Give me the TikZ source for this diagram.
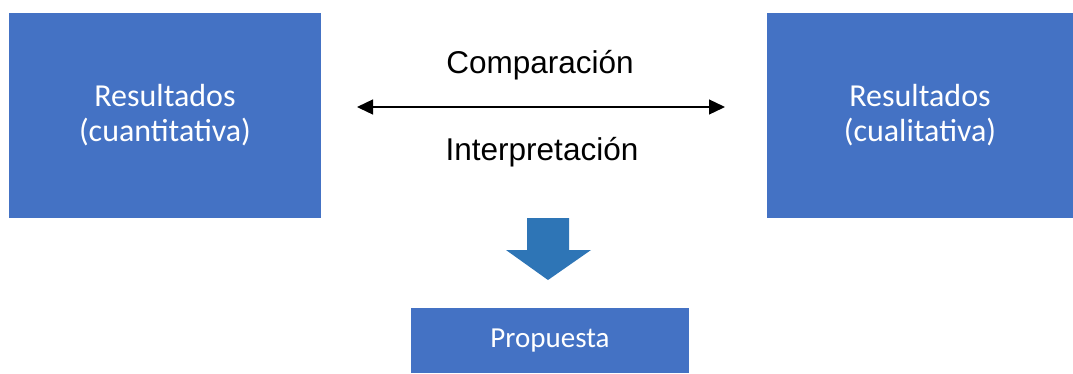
\documentclass[tikz,border=0pt]{standalone}
\usepackage{fontspec}
\setmainfont{Carlito}
\newfontfamily\arialfont{Liberation Sans}
\usetikzlibrary{positioning, arrows.meta}
\definecolor{boxblue}{HTML}{4472C4}
\definecolor{arrowblue}{HTML}{2E75B6}

\begin{document}
\begin{tikzpicture}[x=1pt, y=1pt, >={Triangle[length=16pt, width=15pt]},
    resbox/.style={fill=boxblue, draw=none, text=white, align=center, inner sep=0pt,
        font=\fontsize{32}{35}\selectfont},
    midtext/.style={font=\arialfont\fontsize{31.5}{36}\selectfont, anchor=base, inner sep=0pt}]
\useasboundingbox (0,0) rectangle (1073,-373);
\node[resbox, minimum width=312, minimum height=205] (cuanti) at (165,-115.5) {Resultados\\(cuantitativa)};
\node[resbox, minimum width=306, minimum height=205] (cuali) at (920,-115.5) {Resultados\\(cualitativa)};
\node[resbox, minimum width=278, minimum height=65, font=\fontsize{29}{34}\selectfont] (propuesta) at (550,-340.5) {Propuesta};
\node[midtext] (compara) at (540,-73) {Comparación};
\node[midtext] (interpreta) at (542,-160) {Interpretación};

\coordinate (izq) at (357,-107);
\coordinate (der) at (725,-107);
\draw[<->, line width=1.3pt] (izq) -- (der);

\fill[arrowblue] (527,-218) -- (569,-218) -- (569,-250) -- (591,-250)
    -- (548,-280) -- (506,-250) -- (527,-250) -- cycle;
\end{tikzpicture}
\end{document}
